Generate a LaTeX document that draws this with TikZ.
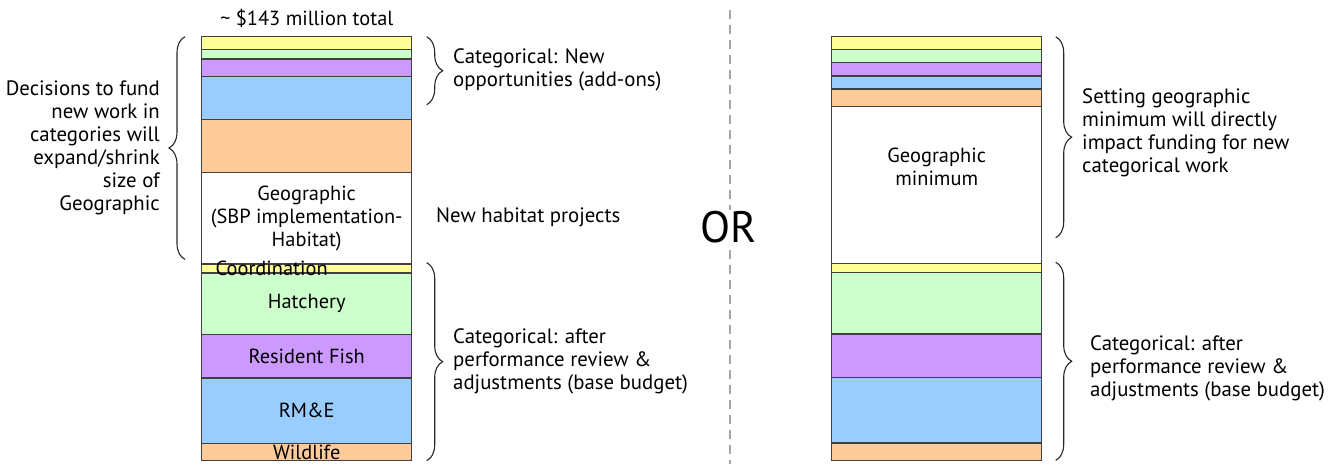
\documentclass[tikz,border=0pt]{standalone}
\usepackage{fontspec}
\setmainfont{PT Sans}
\usetikzlibrary{positioning,decorations.pathreplacing}
\definecolor{yelband}{RGB}{255,255,153}
\definecolor{grnband}{RGB}{204,255,204}
\definecolor{purband}{RGB}{204,153,255}
\definecolor{bluband}{RGB}{153,204,255}
\definecolor{orgband}{RGB}{255,204,153}
\definecolor{edgegray}{RGB}{64,64,64}
\tikzset{
  band/.style={
    draw=edgegray,
    line width=1.3pt,
    minimum width=210pt,
    inner sep=0pt,
    outer sep=0pt
  },
  txt/.style={font=\fontsize{20.8}{23}\selectfont, inner sep=0pt, align=left},
  boxtxt/.style={txt, font=\fontsize{20.4}{23.3}\selectfont, align=center},
  cbrace/.style={decorate, decoration={brace, amplitude=16pt}, draw=black!85, line width=1.1pt}
}

\begin{document}
\begin{tikzpicture}[x=1pt, y=-1pt, node distance=0pt]
        \useasboundingbox (0,0) rectangle (1337,464);
        % left stack
        \node[band, fill=yelband, minimum height=13pt, anchor=north] (lyel) at (306.7,36.7) {};
        \node[band, fill=grnband, minimum height=9.4pt, below=of lyel] (lgrn) {};
        \node[band, fill=purband, minimum height=17.6pt, below=of lgrn] (lpur) {};
        \node[band, fill=bluband, minimum height=43pt, below=of lpur] (lblu) {};
        \node[band, fill=orgband, minimum height=53pt, below=of lblu] (lorg) {};
        \node[band, fill=white, minimum height=91.4pt, below=of lorg] (lgeo) {};
        \node[band, fill=yelband, minimum height=9pt, below=of lgeo] (lcoord) {};
        \node[band, fill=grnband, minimum height=61.3pt, below=of lcoord] (lhatch) {};
        \node[band, fill=purband, minimum height=43.7pt, below=of lhatch] (lres) {};
        \node[band, fill=bluband, minimum height=65.3pt, below=of lres] (lrme) {};
        \node[band, fill=orgband, minimum height=17.3pt, below=of lrme] (lwild) {};
        % right stack
        \node[band, fill=yelband, minimum height=13pt, anchor=north] (ryel) at (936.7,36.7) {};
        \node[band, fill=grnband, minimum height=13pt, below=of ryel] (rgrn) {};
        \node[band, fill=purband, minimum height=13.3pt, below=of rgrn] (rpur) {};
        \node[band, fill=bluband, minimum height=13pt, below=of rpur] (rblu) {};
        \node[band, fill=orgband, minimum height=17.3pt, below=of rblu] (rorg) {};
        \node[band, fill=white, minimum height=157.4pt, below=of rorg] (rgeo) {};
        \node[band, fill=yelband, minimum height=9pt, below=of rgeo] (rcoord) {};
        \node[band, fill=grnband, minimum height=61.3pt, below=of rcoord] (rhatch) {};
        \node[band, fill=purband, minimum height=43.7pt, below=of rhatch] (rres) {};
        \node[band, fill=bluband, minimum height=65.3pt, below=of rres] (rrme) {};
        \node[band, fill=orgband, minimum height=17.3pt, below=of rrme] (rwild) {};

        % band labels
        \node[boxtxt] (lgeolbl) at (lgeo) {Geographic\\(SBP implementation-\\Habitat)};
        \node[boxtxt] (lcoordlbl) at ([xshift=-35pt]lcoord.center) {Coordination};
        \node[boxtxt] (lhatchlbl) at (lhatch) {Hatchery};
        \node[boxtxt] (lreslbl) at (lres) {Resident Fish};
        \node[boxtxt] (lrmelbl) at (lrme) {RM\&E};
        \node[boxtxt] (lwildlbl) at (lwild) {Wildlife};
        \node[boxtxt] (rgeolbl) at ([yshift=18pt]rgeo.center) {Geographic\\minimum};
        \node[boxtxt] (total) at (306.7,18) {\textasciitilde{} \$143 million total};

        % braces
        \draw[cbrace] ([xshift=-16.7pt,yshift=4.7pt]lgeo.south west) -- ([xshift=-16.7pt]lyel.north west);
        \draw[cbrace] ([xshift=15pt]lyel.north east) -- ([xshift=15pt,yshift=15pt]lblu.south east);
        \draw[cbrace] ([xshift=15pt,yshift=1.5pt]lcoord.north east) -- ([xshift=15pt]lwild.south east);
        \draw[cbrace] ([xshift=14pt]ryel.north east) -- ([xshift=14pt,yshift=26pt]rgeo.south east);
        \draw[cbrace] ([xshift=14pt,yshift=1.5pt]rcoord.north east) -- ([xshift=14pt]rwild.south east);

        % side notes
        \node[txt, align=right, anchor=east] (decide) at (160,148) {Decisions to fund\\new work in\\categories will\\expand/shrink\\size of\\Geographic};
        \node[txt, anchor=west] (addons) at (453,70) {Categorical: New\\opportunities (add-ons)};
        \node[txt, anchor=west] (habitat) at (436,217) {New habitat projects};
        \node[txt, anchor=west] (lbase) at (453,361) {Categorical: after\\performance review \&\\adjustments (base budget)};
        \node[txt, anchor=west] (setmin) at (1082,133) {Setting geographic\\minimum will directly\\impact funding for new\\categorical work};
        \node[txt, anchor=west] (rbase) at (1090,368) {Categorical: after\\performance review \&\\adjustments (base budget)};

        % divider
        \coordinate (divtop) at (730,10);
        \coordinate (divbot) at (730,464);
        \draw[black!35, line width=1.6pt, dash pattern=on 9pt off 6pt] (divtop) -- (divbot);
        \node[fill=white, inner sep=1pt, font=\fontsize{44}{44}\selectfont] (orsign) at (729,227) {OR};
      \end{tikzpicture}
\end{document}
